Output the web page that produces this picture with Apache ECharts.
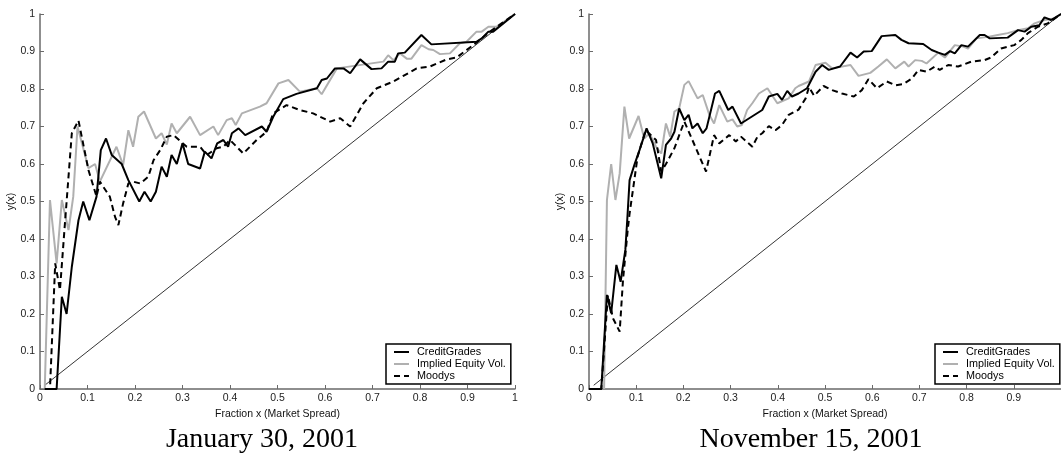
<!DOCTYPE html>
<html>
<head>
<meta charset="utf-8">
<script src="https://cdn.jsdelivr.net/npm/echarts@6/dist/echarts.min.js"></script>
<style>
html,body{margin:0;padding:0;background:#fff;}
#chart{width:1061px;height:459px;}
</style>
</head>
<body>
<div id="chart"></div>
<script>
// ---- Data (x = fraction of market spread, y(x)) ----
var seriesNames = ['CreditGrades', 'Implied Equity Vol.', 'Moodys'];
var panelTitles = ['January 30, 2001', 'November 15, 2001'];
var xAxisName = 'Fraction x (Market Spread)';
var yAxisName = 'y(x)';

var diagonal = [[0.01,0.01],[1,1]];

var janCreditGrades = [[0.01,0],[0.035,0],[0.046,0.246],[0.056,0.20],[0.067,0.326],[0.081,0.45],[0.091,0.50],[0.104,0.45],[0.119,0.513],[0.128,0.637],[0.139,0.668],[0.151,0.624],[0.172,0.60],[0.186,0.557],[0.209,0.50],[0.22,0.526],[0.233,0.50],[0.244,0.526],[0.256,0.593],[0.267,0.566],[0.277,0.624],[0.288,0.60],[0.30,0.655],[0.312,0.60],[0.337,0.588],[0.347,0.633],[0.361,0.615],[0.373,0.655],[0.386,0.664],[0.396,0.646],[0.404,0.682],[0.418,0.695],[0.432,0.677],[0.467,0.70],[0.477,0.686],[0.491,0.726],[0.512,0.773],[0.54,0.787],[0.583,0.802],[0.593,0.824],[0.604,0.828],[0.621,0.855],[0.639,0.855],[0.653,0.842],[0.674,0.879],[0.698,0.853],[0.719,0.855],[0.733,0.873],[0.747,0.873],[0.754,0.895],[0.768,0.897],[0.803,0.944],[0.824,0.919],[0.919,0.926],[0.93,0.935],[0.944,0.953],[0.954,0.953],[1,1]];

var janImpliedVol = [[0.01,0],[0.021,0.504],[0.035,0.335],[0.046,0.504],[0.06,0.424],[0.07,0.513],[0.079,0.70],[0.102,0.589],[0.116,0.60],[0.126,0.553],[0.161,0.646],[0.175,0.597],[0.186,0.69],[0.196,0.646],[0.207,0.726],[0.219,0.74],[0.244,0.668],[0.256,0.682],[0.267,0.652],[0.277,0.708],[0.288,0.682],[0.316,0.726],[0.337,0.677],[0.365,0.70],[0.375,0.677],[0.393,0.717],[0.404,0.722],[0.412,0.704],[0.425,0.735],[0.463,0.753],[0.477,0.762],[0.502,0.815],[0.523,0.824],[0.547,0.793],[0.583,0.802],[0.593,0.786],[0.625,0.855],[0.723,0.873],[0.733,0.89],[0.744,0.877],[0.758,0.895],[0.772,0.881],[0.782,0.881],[0.803,0.917],[0.818,0.906],[0.828,0.904],[0.842,0.893],[0.863,0.895],[0.884,0.922],[0.898,0.926],[0.919,0.953],[0.93,0.953],[0.944,0.966],[0.961,0.966],[1,1]];

var janMoodys = [[0.01,0],[0.021,0],[0.032,0.335],[0.042,0.264],[0.053,0.45],[0.067,0.682],[0.081,0.716],[0.102,0.584],[0.119,0.513],[0.126,0.553],[0.147,0.513],[0.158,0.459],[0.165,0.437],[0.175,0.495],[0.186,0.548],[0.196,0.553],[0.211,0.548],[0.228,0.566],[0.239,0.61],[0.253,0.637],[0.267,0.673],[0.281,0.677],[0.309,0.646],[0.337,0.646],[0.351,0.624],[0.372,0.642],[0.386,0.646],[0.40,0.664],[0.428,0.628],[0.456,0.664],[0.477,0.686],[0.491,0.735],[0.519,0.757],[0.547,0.744],[0.575,0.735],[0.611,0.713],[0.632,0.722],[0.653,0.70],[0.681,0.762],[0.709,0.802],[0.744,0.82],[0.765,0.835],[0.793,0.855],[0.821,0.86],[0.856,0.879],[0.877,0.884],[0.912,0.917],[0.93,0.935],[0.947,0.953],[1,1]];

var novCreditGrades = [[0,0],[0.026,0],[0.038,0.251],[0.047,0.202],[0.058,0.331],[0.067,0.286],[0.077,0.371],[0.081,0.45],[0.086,0.557],[0.096,0.597],[0.107,0.637],[0.122,0.695],[0.135,0.655],[0.153,0.562],[0.163,0.651],[0.174,0.668],[0.181,0.686],[0.191,0.748],[0.202,0.717],[0.211,0.731],[0.219,0.695],[0.23,0.708],[0.241,0.682],[0.249,0.695],[0.267,0.788],[0.276,0.795],[0.295,0.744],[0.304,0.753],[0.322,0.708],[0.367,0.744],[0.381,0.78],[0.399,0.787],[0.409,0.771],[0.42,0.795],[0.43,0.78],[0.444,0.788],[0.462,0.802],[0.48,0.846],[0.494,0.864],[0.508,0.851],[0.532,0.86],[0.554,0.897],[0.568,0.884],[0.582,0.90],[0.599,0.901],[0.62,0.941],[0.649,0.944],[0.662,0.931],[0.677,0.922],[0.708,0.92],[0.726,0.904],[0.74,0.897],[0.754,0.891],[0.765,0.901],[0.775,0.895],[0.789,0.917],[0.803,0.913],[0.828,0.944],[0.838,0.944],[0.849,0.935],[0.887,0.937],[0.909,0.957],[0.923,0.953],[0.937,0.966],[0.954,0.97],[0.965,0.991],[0.979,0.984],[1,1]];

var novImpliedVol = [[0.032,0],[0.038,0.504],[0.047,0.60],[0.056,0.504],[0.065,0.575],[0.075,0.753],[0.085,0.668],[0.105,0.728],[0.117,0.668],[0.128,0.682],[0.142,0.646],[0.153,0.628],[0.163,0.708],[0.172,0.673],[0.181,0.74],[0.191,0.748],[0.202,0.811],[0.211,0.821],[0.23,0.775],[0.241,0.784],[0.255,0.731],[0.265,0.708],[0.276,0.757],[0.293,0.713],[0.304,0.719],[0.314,0.70],[0.324,0.704],[0.335,0.744],[0.346,0.762],[0.36,0.788],[0.378,0.802],[0.399,0.762],[0.423,0.775],[0.437,0.802],[0.444,0.808],[0.466,0.82],[0.48,0.864],[0.501,0.87],[0.515,0.855],[0.554,0.864],[0.571,0.835],[0.596,0.843],[0.613,0.86],[0.631,0.879],[0.649,0.855],[0.668,0.873],[0.677,0.86],[0.691,0.877],[0.705,0.875],[0.715,0.868],[0.74,0.897],[0.754,0.884],[0.775,0.917],[0.793,0.913],[0.803,0.908],[0.821,0.935],[0.845,0.939],[0.866,0.944],[0.887,0.949],[0.909,0.957],[0.93,0.962],[0.944,0.975],[0.965,0.984],[0.986,0.988],[1,1]];

var novMoodys = [[0,0],[0.026,0],[0.04,0.25],[0.051,0.188],[0.065,0.153],[0.072,0.29],[0.082,0.424],[0.086,0.468],[0.096,0.557],[0.103,0.62],[0.12,0.69],[0.142,0.664],[0.153,0.58],[0.163,0.60],[0.181,0.642],[0.195,0.69],[0.202,0.713],[0.216,0.673],[0.234,0.62],[0.248,0.58],[0.265,0.677],[0.276,0.655],[0.297,0.677],[0.311,0.66],[0.322,0.673],[0.346,0.646],[0.357,0.673],[0.367,0.682],[0.381,0.701],[0.395,0.69],[0.409,0.704],[0.423,0.731],[0.444,0.745],[0.459,0.775],[0.466,0.805],[0.477,0.782],[0.497,0.808],[0.515,0.797],[0.536,0.788],[0.561,0.78],[0.578,0.797],[0.592,0.826],[0.61,0.802],[0.631,0.82],[0.649,0.81],[0.666,0.813],[0.684,0.828],[0.698,0.851],[0.715,0.846],[0.733,0.86],[0.743,0.851],[0.761,0.864],[0.782,0.86],[0.81,0.873],[0.838,0.877],[0.852,0.884],[0.873,0.908],[0.901,0.917],[0.916,0.931],[0.93,0.949],[0.951,0.966],[0.972,0.975],[1,1]];

// ---- Chart ----
var SANS = 'Liberation Sans, Arial, sans-serif';
var SERIF = 'Liberation Serif, Times New Roman, serif';
var AXIS_COLOR = '#6a6a6a';

function xAx(idx, hideMax) {
  return {
    type: 'value', gridIndex: idx, min: 0, max: 1, interval: 0.1,
    name: xAxisName, nameLocation: 'middle', nameGap: 16,
    nameTextStyle: {fontFamily: SANS, fontSize: 10.5, color: '#111'},
    axisLine: {show: true, onZero: false, lineStyle: {color: AXIS_COLOR, width: 1.5}},
    axisTick: {show: true, inside: true, length: 4, lineStyle: {color: AXIS_COLOR, width: 1}},
    axisLabel: {fontFamily: SANS, fontSize: 10.5, color: '#222', margin: 4, showMaxLabel: !hideMax},
    splitLine: {show: false}
  };
}
function yAx(idx) {
  return {
    type: 'value', gridIndex: idx, min: 0, max: 1, interval: 0.1,
    name: yAxisName, nameLocation: 'middle', nameGap: 20, nameRotate: 90,
    nameTextStyle: {fontFamily: SANS, fontSize: 10.5, color: '#111'},
    axisLine: {show: true, onZero: false, lineStyle: {color: AXIS_COLOR, width: 1.5}},
    axisTick: {show: true, inside: true, length: 4, lineStyle: {color: AXIS_COLOR, width: 1}},
    axisLabel: {fontFamily: SANS, fontSize: 10.5, color: '#222', margin: 5},
    splitLine: {show: false}
  };
}
function lineSeries(name, data, idx, color, type, width, z) {
  return {
    name: name, type: 'line', xAxisIndex: idx, yAxisIndex: idx,
    data: data, symbol: 'none', showSymbol: false, smooth: false,
    lineStyle: {color: color, width: width, type: type},
    itemStyle: {color: color},
    emphasis: {disabled: true}, animation: false, z: z
  };
}
function legendAt(left) {
  return {
    data: seriesNames, orient: 'vertical', left: left, top: 344,
    itemWidth: 15, itemHeight: 10, itemGap: 0,
    padding: [2, 5, 2, 7],
    borderColor: '#000', borderWidth: 1.5, borderRadius: 0,
    backgroundColor: '#fff',
    itemStyle: {opacity: 0, borderWidth: 0},
    textStyle: {fontFamily: SANS, fontSize: 10.8, color: '#000', lineHeight: 12, padding: [0, 0, 0, 3]},
    selectedMode: false
  };
}

var chart = echarts.init(document.getElementById('chart'), null, {renderer: 'canvas'});
chart.setOption({
  backgroundColor: '#fff',
  animation: false,
  grid: [
    {left: 40, top: 14, width: 475, height: 375, containLabel: false},
    {left: 589, top: 14, width: 474, height: 375, containLabel: false}
  ],
  xAxis: [xAx(0, false), xAx(1, true)],
  yAxis: [yAx(0), yAx(1)],
  legend: [legendAt(386), legendAt(935)],
  series: [
    lineSeries('diag', diagonal, 0, '#000', 'solid', 0.8, 2),
    lineSeries(seriesNames[1], janImpliedVol, 0, '#b0b0b0', 'solid', 2, 3),
    lineSeries(seriesNames[0], janCreditGrades, 0, '#000', 'solid', 2, 4),
    lineSeries(seriesNames[2], janMoodys, 0, '#000', [6, 4], 2, 5),
    lineSeries('diag', diagonal, 1, '#000', 'solid', 0.8, 2),
    lineSeries(seriesNames[1], novImpliedVol, 1, '#b0b0b0', 'solid', 2, 3),
    lineSeries(seriesNames[0], novCreditGrades, 1, '#000', 'solid', 2, 4),
    lineSeries(seriesNames[2], novMoodys, 1, '#000', [6, 4], 2, 5)
  ],
  graphic: [
    {type: 'text', x: 262, y: 440, style: {text: panelTitles[0], font: '28px ' + SERIF, fill: '#000', textAlign: 'center', textVerticalAlign: 'middle'}},
    {type: 'text', x: 811, y: 440, style: {text: panelTitles[1], font: '28px ' + SERIF, fill: '#000', textAlign: 'center', textVerticalAlign: 'middle'}}
  ]
});
</script>
</body>
</html>
